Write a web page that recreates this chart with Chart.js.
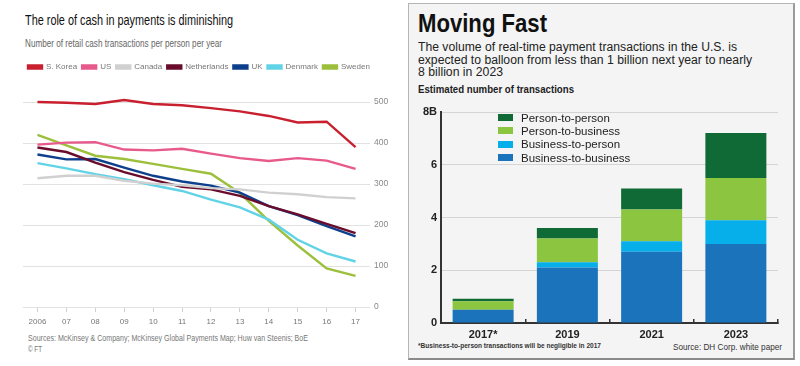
<!DOCTYPE html>
<html>
<head>
<meta charset="utf-8">
<script src="https://cdn.jsdelivr.net/npm/chart.js@4.4.0/dist/chart.umd.min.js"></script>
<style>
  body { margin: 0; width: 800px; height: 366px; background: #fff; position: relative; overflow: hidden; font-family: "Liberation Sans", Arial, sans-serif; }
  .txt { position: absolute; white-space: nowrap; transform-origin: 0 0; line-height: 1; }
  #panel { position: absolute; left: 408px; top: 3px; width: 384px; height: 354px; background: #f4f4f4; border: 1px solid #b5b5b5; border-bottom: 2px solid #8a8a8a; border-right: 2px solid #9a9a9a; }
  #cashWrap { position: absolute; left: 0; top: 56px; width: 400px; height: 273px; }
  #rtpWrap { position: absolute; left: 420px; top: 100px; width: 360px; height: 245px; }
  #rtpLegend { position: absolute; left: 498px; top: 111px; font-size: 11.5px; color: #222; }
  #rtpLegend div { height: 13.3px; display: flex; align-items: center; }
  #rtpLegend span.sw { display: inline-block; width: 15px; height: 7px; margin-right: 8px; }
</style>
</head>
<body>
<div id="panel"></div>

<div class="txt" style="left:25px;top:12px;font-size:15px;color:#111" data-w="208">The role of cash in payments is diminishing</div>
<div class="txt" style="left:25px;top:39px;font-size:10px;color:#666" data-w="197">Number of retail cash transactions per person per year</div>
<div class="txt" style="left:28px;top:334px;font-size:9px;color:#777" data-w="280">Sources: McKinsey &amp; Company; McKinsey Global Payments Map; Huw van Steenis; BoE</div>
<div class="txt" style="left:28px;top:345px;font-size:9px;color:#777" data-w="14">© FT</div>

<div class="txt" style="left:418px;top:11px;font-size:25px;font-weight:bold;color:#111" data-w="129">Moving Fast</div>
<div class="txt" style="left:418px;top:41px;font-size:12.5px;color:#222" data-w="319">The volume of real-time payment transactions in the U.S. is</div>
<div class="txt" style="left:418px;top:53.5px;font-size:12.5px;color:#222" data-w="334">expected to balloon from less than 1 billion next year to nearly</div>
<div class="txt" style="left:418px;top:66px;font-size:12.5px;color:#222" data-w="85">8 billion in 2023</div>
<div class="txt" style="left:418px;top:84px;font-size:11px;font-weight:bold;color:#222" data-w="156">Estimated number of transactions</div>
<div class="txt" style="left:418px;top:342px;font-size:8px;font-weight:bold;color:#333" data-w="183">*Business-to-person transactions will be negligible in 2017</div>
<div class="txt" style="left:673px;top:343px;font-size:8.5px;color:#333" data-w="109">Source: DH Corp. white paper</div>

<div id="cashWrap"><canvas id="cashChart"></canvas></div>
<div id="rtpWrap"><canvas id="rtpChart"></canvas></div>
<div id="rtpLegend"></div>

<script>
// Left: retail cash transactions per person per year
const years = ['2006', '07', '08', '09', '10', '11', '12', '13', '14', '15', '16', '17'];
const sKorea = [500, 498, 495, 505, 495, 492, 485, 477, 466, 450, 452, 390];
const us = [396, 401, 402, 384, 382, 386, 374, 363, 356, 363, 357, 337];
const canada = [314, 320, 320, 308, 301, 297, 290, 287, 279, 275, 268, 265];
const netherlands = [389, 378, 352, 329, 310, 293, 287, 271, 246, 226, 203, 180];
const uk = [372, 360, 361, 340, 320, 306, 296, 279, 246, 224, 197, 172];
const denmark = [351, 338, 324, 312, 297, 283, 262, 243, 213, 164, 131, 111];
const sweden = [420, 394, 369, 361, 349, 337, 325, 278, 210, 150, 94, 76];
const cashTicks = [0, 100, 200, 300, 400, 500];

// Right: estimated number of real-time payment transactions (billions)
const periods = ['2017*', '2019', '2021', '2023'];
const b2b = [0.5, 2.1, 2.7, 3.0];
const b2p = [0, 0.2, 0.4, 0.9];
const p2b = [0.32, 0.9, 1.2, 1.6];
const p2p = [0.1, 0.4, 0.8, 1.7];

// squeeze html texts to the widths they have in the picture
document.querySelectorAll('[data-w]').forEach(el => {
    const w = el.getBoundingClientRect().width;
    el.style.transform = `scaleX(${parseFloat(el.dataset.w) / w})`;
});

Chart.defaults.font.family = '"Liberation Sans", Arial, sans-serif';
Chart.defaults.animation = false;

function line(label, data, color) {
    return { label, data, borderColor: color, backgroundColor: color, borderWidth: 2.4, pointRadius: 0, tension: 0, clip: false };
}

// more room between the legend and the plot
const legendGap = {
    id: 'legendGap',
    beforeInit(chart) {
        const fit = chart.legend.fit;
        chart.legend.fit = function () {
            fit.bind(chart.legend)();
            this.height += 21;
        };
    }
};

new Chart(document.getElementById('cashChart'), {
    type: 'line',
    data: {
        labels: years,
        datasets: [
            line('S. Korea', sKorea, '#c8202f'),
            line('US', us, '#e85a8c'),
            line('Canada', canada, '#d0d0d0'),
            line('Netherlands', netherlands, '#6a0c2b'),
            line('UK', uk, '#0d3f8c'),
            line('Denmark', denmark, '#62d3e6'),
            line('Sweden', sweden, '#9cbf3c')
        ]
    },
    plugins: [legendGap],
    options: {
        responsive: true,
        maintainAspectRatio: false,
        layout: { padding: { left: 23, top: 2, right: 0, bottom: 0 } },
        plugins: {
            legend: {
                position: 'top',
                align: 'start',
                labels: { boxWidth: 14, boxHeight: 3, padding: 5, color: '#777', font: { size: 8 } }
            },
            tooltip: { enabled: false }
        },
        scales: {
            x: {
                offset: true,
                grid: { drawOnChartArea: false, drawTicks: true, tickLength: 5, color: '#cfcfcf' },
                border: { display: false },
                ticks: { color: '#777', font: { size: 8 }, padding: 5, maxRotation: 0, autoSkip: false },
                afterFit(scale) { scale.height = 22; }
            },
            y: {
                position: 'right',
                min: 0,
                max: 500,
                afterBuildTicks(scale) { scale.ticks = cashTicks.map(v => ({ value: v })); },
                grid: { color: '#e2e2e2', drawTicks: false },
                border: { display: false },
                ticks: { color: '#888', font: { size: 8.5 }, padding: 4 },
                afterFit(scale) { scale.width = 30; }
            }
        }
    }
});

const rtpSeries = [
    { label: 'Business-to-business', data: b2b, color: '#1b74bb' },
    { label: 'Business-to-person', data: b2p, color: '#06aeea' },
    { label: 'Person-to-business', data: p2b, color: '#8cc53f' },
    { label: 'Person-to-person', data: p2p, color: '#106a35' }
];

new Chart(document.getElementById('rtpChart'), {
    type: 'bar',
    data: {
        labels: periods,
        datasets: rtpSeries.map(s => ({
            label: s.label,
            data: s.data,
            backgroundColor: s.color,
            borderWidth: 0,
            barPercentage: 0.724,
            categoryPercentage: 1
        }))
    },
    options: {
        responsive: true,
        maintainAspectRatio: false,
        layout: { padding: { top: 12, right: 2, left: 0, bottom: 0 } },
        plugins: { legend: { display: false }, tooltip: { enabled: false } },
        scales: {
            x: {
                stacked: true,
                // short marks pointing up from the baseline between the bars
                grid: { offset: true, drawOnChartArea: false, drawTicks: true, tickLength: -4, color: '#333', lineWidth: 1.5 },
                border: { display: true, color: '#333', width: 2 },
                ticks: { color: '#222', font: { size: 11, weight: 'bold' }, padding: 9 },
                afterFit(scale) { scale.height = 22; }
            },
            y: {
                stacked: true,
                min: 0,
                max: 8,
                ticks: {
                    stepSize: 2,
                    color: '#222',
                    font: { size: 11, weight: 'bold' },
                    padding: 4,
                    callback: v => v === 8 ? '8B' : v
                },
                grid: { color: '#d4d4d4', drawTicks: false },
                border: { display: true, color: '#333', width: 2 },
                afterFit(scale) { scale.width = 21; }
            }
        }
    }
});

// legend of the right chart, top row is the top of the stack
const legendBox = document.getElementById('rtpLegend');
rtpSeries.slice().reverse().forEach(s => {
    const row = document.createElement('div');
    row.innerHTML = `<span class="sw" style="background:${s.color}"></span>${s.label}`;
    legendBox.appendChild(row);
});
</script>
</body>
</html>
